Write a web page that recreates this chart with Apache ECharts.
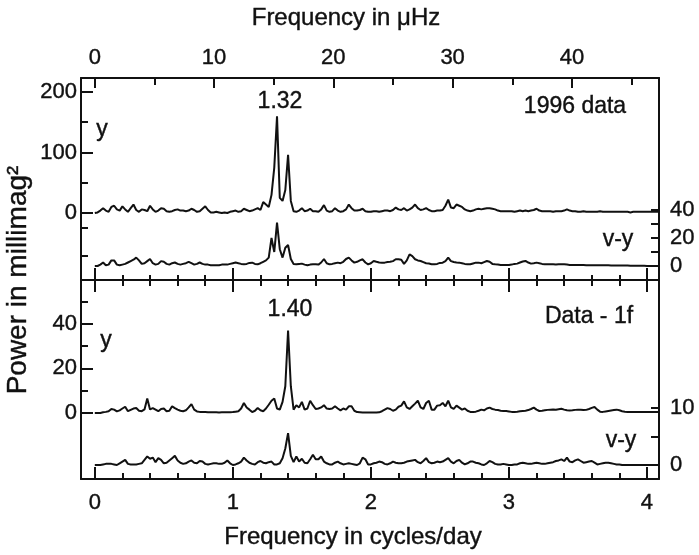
<!DOCTYPE html>
<html><head><meta charset="utf-8">
<script src="https://cdn.jsdelivr.net/npm/echarts@6/dist/echarts.min.js"></script>
<style>html,body{margin:0;padding:0;background:#fff}#c{width:699px;height:555px}</style>
</head><body><div id="c"></div>
<script>
// sampling of the periodograms in cycles/day
const FREQ_STEP = 0.02;
const UHZ_PER_CD = 11.574;

// top panel (1996 data): y power (left axis) and v-y power (right axis)
const yTop = [
  0, 1, 4, 8, 4, 2, 10, 12, 6, 4,
  11, 6, 2, 8, 14, 5, 2, 6, 5, 3,
  12, 6, 2, 4, 8, 7, 3, 2, 3, 5,
  6, 4, 4, 3, 4, 7, 5, 2, 3, 7,
  11, 5, 1, 1, 2, 1, 0, 1, 0, 2,
  3, 4, 2, 3, 7, 5, 3, 4, 6, 8,
  5, 18, 14, 10, 30, 75, 160, 25, 20, 38,
  96, 20, 3, 2, 4, 8, 3, 4, 7, 3,
  3, 2, 6, 13, 4, 2, 3, 8, 4, 2,
  3, 6, 14, 8, 4, 4, 5, 7, 3, 2,
  2, 3, 3, 2, 3, 4, 4, 3, 5, 9,
  6, 5, 8, 4, 6, 9, 14, 8, 5, 6,
  8, 5, 3, 3, 4, 4, 5, 12, 22, 9,
  8, 14, 12, 10, 6, 4, 3, 4, 6, 7,
  6, 7, 8, 8, 7, 6, 4, 3, 3, 3,
  3, 3, 2, 3, 4, 3, 4, 3, 4, 5,
  7, 4, 3, 3, 3, 3, 2, 3, 3, 3,
  4, 6, 4, 3, 3, 2, 2, 3, 2, 2,
  2, 2, 2, 3, 2, 2, 2, 2, 2, 2,
  2, 2, 2, 2, 1, 2, 2, 2, 2, 2,
  2, 2, 2, 2, 2
];
const vyTop = [
  0, 0, 1, 2.5, 0.5, 1, 4, 4, 1, 0.5,
  1, 1.5, 2.5, 3.5, 4.5, 6, 4, 1.5, 2, 3.5,
  5, 2, 1, 1.5, 3.5, 3, 1.5, 1, 2, 2.5,
  1.5, 1, 1.5, 2, 3, 2, 1, 1.5, 2.5, 1.5,
  1, 1, 0.5, 0.5, 0.5, 0.5, 1, 1, 1, 1.5,
  2, 2.5, 2, 1.5, 1.2, 1.5, 2.2, 2.4, 1.5, 1.2,
  2, 3, 4, 6, 20, 10, 31, 12, 6, 13,
  15, 5, 1.5, 1.2, 1.5, 1.7, 1, 0.5, 1, 1.2,
  1.2, 1, 2.5, 5, 2, 1.2, 1.5, 2, 2.4, 2,
  3, 5, 6, 4, 2.4, 3, 4, 4.8, 2.5, 1.2,
  2, 3.6, 3, 2.5, 2.4, 2.4, 2.8, 3, 3.5, 4.8,
  4.8, 4.5, 1.5, 4, 8.3, 7, 4.8, 4, 3.6, 2.8,
  2, 1.8, 1.3, 1.2, 1.5, 2.2, 2.4, 3.5, 6, 3.5,
  2.9, 2.5, 2.4, 2, 1.5, 1.2, 1.2, 1.8, 2.4, 2.4,
  2, 2.8, 3.6, 3, 1.5, 1.2, 1, 0.8, 0.7, 0.7,
  0.7, 1, 1.5, 1.7, 2.5, 3.2, 3.6, 2.5, 1.7, 2,
  2.4, 2, 1.5, 1.2, 1.2, 1.2, 1.2, 1, 1.2, 1.2,
  1.2, 1, 0.8, 0.8, 0.8, 0.7, 0.7, 0.7, 0.6, 0.6,
  0.6, 0.6, 0.5, 0.5, 0.5, 0.5, 0.5, 0.4, 0.4, 0.4,
  0.3, 0.3, 0.3, 0.3, 0.2, 0.2, 0.2, 0.2, 0.1, 0.1,
  0, 0, 0, 0, 0
];
// bottom panel (Data - 1f)
const yBot = [
  0, 0, 0, 0.3, 0.5, 0.8, 1.8, 1.5, 0.7, 1.2,
  2, 2.8, 0.8, 1.4, 2, 2.2, 1, 0.8, 1.6, 6.5,
  1.6, 2.2, 1.5, 0.8, 1.8, 2, 0.8, 1, 3, 2.2,
  1.5, 1, 0.8, 1.2, 2.5, 4, 1.5, 0.7, 0.5, 0.4,
  0.4, 0.3, 0.3, 0.3, 0.3, 0.2, 0.3, 0.3, 0.3, 0.3,
  0.4, 0.6, 0.8, 2, 4.5, 2.5, 1.5, 0.4, 1, 2.2,
  1.2, 0.8, 2, 3.7, 5.5, 6.5, 2, 1.5, 5, 12,
  37, 12, 1.5, 3.5, 2.5, 5, 1.5, 2, 5.5, 3.5,
  1.8, 2, 2.5, 3.5, 2, 1.8, 2, 3, 2, 1.2,
  2, 1.5, 3, 3, 1, 0.4, 0.3, 0.2, 0.2, 0.2,
  0.2, 0.2, 0.2, 0.3, 0.8, 1.5, 2.2, 1.8, 1, 1.5,
  2.8, 3.3, 5.2, 2.5, 1.8, 3, 4.2, 5.5, 2.5, 1.8,
  4.5, 5.5, 1.5, 1.5, 3.3, 3.5, 4.5, 3, 5.5, 2.5,
  1.8, 3.3, 2.4, 1.5, 2, 1, 0.5, 0.5, 0.6, 1,
  1.5, 1.2, 2, 2.4, 1.8, 1.5, 1.3, 1, 0.9, 0.9,
  0.7, 0.5, 0.5, 0.6, 0.8, 0.9, 1, 1.3, 1.8, 2.4,
  1.5, 0.9, 1, 1.2, 1.4, 1.5, 1.6, 1.5, 1.7, 1.9,
  1.5, 1.2, 1.1, 1.2, 1.4, 1.5, 1.5, 1.3, 1.4, 1.8,
  2.3, 2.7, 1.5, 0.6, 0.5, 0.7, 0.9, 1.1, 1.3, 1.5,
  1.2, 0.8, 0.6, 0.5, 0.5, 0.5, 0.5, 0.5, 0.5, 0.5,
  0.5, 0.5, 0.5, 0.5, 0.5
];
const vyBot = [
  0, 0, 0, 0.1, 0.2, 0.2, 0.2, 0.1, 0, 0.3,
  0.6, 0.9, 0.2, 0.1, 0.1, 0.1, 0.2, 0.3, 0.9, 1.5,
  1.1, 1.3, 0.5, 1.2, 0.9, 0.3, 0.4, 0.8, 1.2, 1.6,
  0.8, 0.4, 0.2, 0.3, 0.6, 0.8, 0.4, 0.3, 0.7, 0.6,
  0.2, 0.1, 0.2, 0.3, 0.3, 0.2, 0.2, 0.4, 0.8, 0.3,
  0, 0.1, 0.3, 0.6, 1.3, 0.8, 0.4, 0.2, 0.1, 0.5,
  0.7, 0.4, 0.3, 0.5, 0.6, 0.1, 0.1, 0.3, 1.2, 2.9,
  5.6, 1.6, 0.5, 1.5, 0.6, 1.1, 0.4, 0.3, 1, 1.8,
  1, 1, 1.5, 0.6, 0.3, 0.1, 0.1, 0.4, 0.6, 0.3,
  0.1, 0.2, 0.3, 0.2, 0.1, 0, 0.3, 1.3, 1, 0.1,
  0.1, 0.3, 0.4, 0.6, 0.5, 0.2, 0.1, 0.3, 0.6, 0.4,
  0.3, 0.3, 0.4, 0.6, 0.7, 0.8, 0.9, 0.5, 0.3, 0.7,
  1.2, 0.5, 0.3, 0.4, 0.6, 0.5, 0.6, 0.9, 1.2, 0.6,
  0.3, 0.7, 0.9, 0.4, 0.1, 0.3, 0.6, 0.6, 0.4, 0.3,
  0.1, 0, 0.3, 0.7, 0.5, 0.2, 0.1, 0.1, 0.2, 0.1,
  0, 0, 0.1, 0.1, 0.3, 0.4, 0.3, 0.2, 0.2, 0.3,
  0.4, 0.3, 0.2, 0.2, 0.3, 0.4, 0.5, 0.7, 0.8, 1,
  0.7, 1.3, 0.6, 0.5, 0.8, 1, 0.7, 0.4, 0.5, 0.6,
  0.7, 0.4, 0.1, 0.2, 0.3, 0.4, 0.4, 0.3, 0.2, 0.1,
  0.1, 0, 0, 0, 0, 0, 0, 0, 0, 0,
  0, 0, 0, 0, 0
];

// axis ticks and labels
const cdMajor = [0, 1, 2, 3, 4];
const cdMinor = [0.2, 0.4, 0.6, 0.8, 1.2, 1.4, 1.6, 1.8, 2.2, 2.4, 2.6, 2.8, 3.2, 3.4, 3.6, 3.8];
const uhzMajor = [0, 10, 20, 30, 40];
const uhzMinor = [5, 15, 25, 35, 45];
const topLeftLabels = [0, 100, 200];
const topLeftMinor = [-70, -25, 50, 150];
const topRightLabels = [0, 20, 40];
const topRightTicks = [0, 10, 20, 30, 40];
const botLeftLabels = [0, 20, 40];
const botLeftMinor = [10, 30, 50];
const botRightLabels = [0, 10];
const botRightTicks = [0, 5, 10];

const XMIN = -0.1, XMAX = 4.087;
const INK = '#111';
const FONT = '"Liberation Sans", Arial, Helvetica, sans-serif';
const TICK_FS = 22;

function pairs(arr) { return arr.map((v, i) => [+(i * FREQ_STEP).toFixed(2), v]); }

function ax(gridIndex, position, ticks, len, labels, showLine, mn, mx, margin) {
  return {
    type: 'value', gridIndex, position, min: mn, max: mx,
    axisLine: { show: showLine, onZero: false, lineStyle: { color: INK, width: 2 } },
    axisTick: { show: true, inside: true, length: len, customValues: ticks, lineStyle: { color: INK, width: 2 } },
    axisLabel: labels ? { show: true, customValues: labels, fontSize: TICK_FS, color: INK, fontFamily: FONT, margin: margin,
      textBorderColor: INK, textBorderWidth: 0.4 } : { show: false },
    splitLine: { show: false }
  };
}

const chart = echarts.init(document.getElementById('c'), null, { renderer: 'canvas' });
const lineStyle = { color: INK, width: 2 };
function txt(text, x, y, size, rot) {
  return { type: 'text', x, y, rotation: rot || 0,
    style: { text, fontSize: size, fontFamily: FONT, fill: INK, stroke: INK, lineWidth: 0.4, align: 'center', verticalAlign: 'middle' } };
}
chart.setOption({
  animation: false,
  backgroundColor: '#fff',
  grid: [
    { left: 81, right: 40, top: 78, height: 202 },
    { left: 81, right: 40, top: 280, height: 199 }
  ],
  xAxis: [
    ax(0, 'bottom', cdMajor, 12, null, true, XMIN, XMAX),
    ax(0, 'bottom', cdMinor, 5, null, false, XMIN, XMAX),
    ax(0, 'top', uhzMajor, 10, uhzMajor, true, XMIN * UHZ_PER_CD, XMAX * UHZ_PER_CD, 9),
    ax(0, 'top', uhzMinor, 7, null, false, XMIN * UHZ_PER_CD, XMAX * UHZ_PER_CD),
    ax(1, 'bottom', cdMajor, 12, cdMajor, true, XMIN, XMAX, 13),
    ax(1, 'bottom', cdMinor, 6, null, false, XMIN, XMAX),
    ax(1, 'top', cdMajor, 12, null, true, XMIN, XMAX),
    ax(1, 'top', cdMinor, 6, null, false, XMIN, XMAX)
  ],
  yAxis: [
    ax(0, 'left', topLeftLabels, 12, topLeftLabels, true, -110.7, 223.1, 4),
    ax(0, 'left', topLeftMinor, 7, null, false, -110.7, 223.1),
    ax(0, 'right', topRightTicks, 8, topRightLabels, true, -10, 134.3, 11),
    ax(1, 'left', botLeftLabels, 12, botLeftLabels, true, -29.6, 59.64, 4),
    ax(1, 'left', botLeftMinor, 7, null, false, -29.6, 59.64),
    ax(1, 'right', botRightTicks, 8, botRightLabels, true, -2.456, 32.46, 11)
  ],
  series: [
    { type: 'line', xAxisIndex: 0, yAxisIndex: 0, data: pairs(yTop), showSymbol: false, lineStyle, silent: true },
    { type: 'line', xAxisIndex: 0, yAxisIndex: 2, data: pairs(vyTop), showSymbol: false, lineStyle, silent: true },
    { type: 'line', xAxisIndex: 4, yAxisIndex: 3, data: pairs(yBot), showSymbol: false, lineStyle, silent: true },
    { type: 'line', xAxisIndex: 4, yAxisIndex: 5, data: pairs(vyBot), showSymbol: false, lineStyle, silent: true }
  ],
  graphic: [
    txt('Frequency in \u03bcHz', 346, 18, 24),
    txt('Frequency in cycles/day', 353, 537, 24),
    txt('Power in millimag\u00b2', 18, 280, 28, Math.PI / 2),
    txt('1.32', 280, 102, 23),
    txt('1996 data', 575, 107, 23),
    txt('y', 102, 130, 23),
    txt('v-y', 618, 240, 23),
    txt('1.40', 290, 310, 23),
    txt('Data - 1f', 589, 317, 23),
    txt('y', 106, 341, 23),
    txt('v-y', 621, 441, 23)
  ]
});
</script>
</body></html>
